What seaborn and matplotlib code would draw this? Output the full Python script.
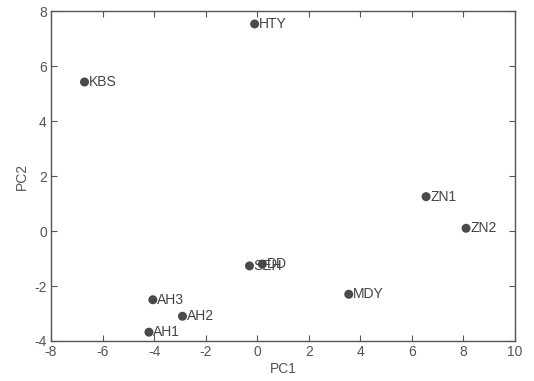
import matplotlib
matplotlib.use('Agg')
import matplotlib.pyplot as plt
import pandas as pd
import seaborn as sns

# サンプル名と主成分スコア
names = ['HTY', 'KBS', 'ZN1', 'ZN2', 'SEH', 'DD', 'MDY', 'AH3', 'AH2', 'AH1']
pc1 = [-0.1, -6.7, 6.55, 8.1, -0.3, 0.2, 3.55, -4.05, -2.9, -4.2]
pc2 = [7.53, 5.42, 1.25, 0.1, -1.27, -1.2, -2.3, -2.5, -3.1, -3.68]

df = pd.DataFrame({'name': names, 'PC1': pc1, 'PC2': pc2})

sns.set_style('white')
plt.rcParams['font.family'] = ['Liberation Sans', 'DejaVu Sans']
plt.rcParams['axes.unicode_minus'] = False
grey = '#555555'

fig = plt.figure(figsize=(5.34, 3.81), dpi=100)
ax = fig.add_axes([0.0955, 0.105, 0.869, 0.866])

sns.scatterplot(data=df, x='PC1', y='PC2', ax=ax, s=42, color='#4a4a4a',
                edgecolor='none', legend=False)

# ラベルは点の右側に置く（SEH と DD は元図でも重なっている）
for _, r in df.iterrows():
    ax.annotate(r['name'], (r['PC1'], r['PC2']), xytext=(3, 0),
                textcoords='offset points', va='center', ha='left',
                fontsize=10, color='#444444')

ax.set_xlim(-8, 10)
ax.set_ylim(-4, 8)
ax.set_xticks(range(-8, 11, 2))
ax.set_yticks(range(-4, 9, 2))
ax.set_xlabel('PC1', fontsize=10, color=grey, labelpad=2)
ax.set_ylabel('PC2', fontsize=10, color=grey, labelpad=4)
ax.tick_params(direction='in', length=4, width=0.8, colors=grey,
               labelsize=10, top=True, right=True, bottom=True, left=True,
               pad=3)
for sp in ax.spines.values():
    sp.set_color(grey)
    sp.set_linewidth(1.0)

fig.savefig('out.png', dpi=100)
